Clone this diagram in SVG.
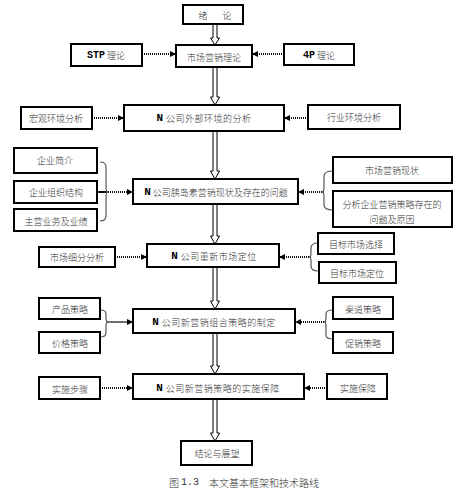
<svg xmlns="http://www.w3.org/2000/svg" width="466" height="497" viewBox="0 0 466 497">
<defs>
<style>
.box{fill:#fff;stroke:#000;stroke-width:2}
.t{font-family:"Noto Sans CJK SC","Liberation Serif",sans-serif;font-size:9px;font-weight:300;fill:#333;text-anchor:middle;dominant-baseline:central}
.n{font-family:"Liberation Mono",monospace;font-weight:bold;font-size:11px;fill:#000}
.dot{fill:none;stroke:#111;stroke-width:2;stroke-dasharray:1 1}
.sol{fill:none;stroke:#111;stroke-width:1.2}
.brace{fill:none;stroke:#555;stroke-width:1.2}
.dbl{fill:#fff;stroke:#000;stroke-width:1}
</style>
<marker id="ah" markerWidth="6" markerHeight="6" refX="6" refY="3" orient="auto" markerUnits="userSpaceOnUse"><path d="M0,0 L6,3 L0,6 z" fill="#000"/></marker>
</defs>

<g id="connectors">
<path class="dbl" d="M213,24 V38 H210.5 L215,45 L219.5,38 H217 V24"/>
<path class="dbl" d="M213,67 V97 H210.5 L215,105 L219.5,97 H217 V67"/>
<path class="dbl" d="M213,131 V171 H210.5 L215,179 L219.5,171 H217 V131"/>
<path class="dbl" d="M213,204 V236 H210.5 L215,244 L219.5,236 H217 V204"/>
<path class="dbl" d="M213,267 V301 H210.5 L215,309 L219.5,301 H217 V267"/>
<path class="dbl" d="M213,333 V366 H210.5 L215,374 L219.5,366 H217 V333"/>
<path class="dbl" d="M213,399 V433 H210.5 L215,441 L219.5,433 H217 V399"/>
<line class="dot" x1="142" y1="54" x2="176" y2="54" marker-end="url(#ah)"/>
<line class="dot" x1="284" y1="54" x2="252" y2="54" marker-end="url(#ah)"/>
<line class="dot" x1="92" y1="118" x2="124" y2="118" marker-end="url(#ah)"/>
<line class="dot" x1="308" y1="118" x2="284" y2="118" marker-end="url(#ah)"/>
<line class="sol" x1="97" y1="192" x2="106" y2="192" style="stroke-width:2"/>
<line class="dot" x1="106" y1="192" x2="133" y2="192" marker-end="url(#ah)"/>
<line class="dot" x1="324" y1="192" x2="298" y2="192" marker-end="url(#ah)"/>
<line class="dot" x1="115" y1="257" x2="147" y2="257" marker-end="url(#ah)"/>
<line class="dot" x1="311" y1="257" x2="279" y2="257" marker-end="url(#ah)"/>
<line class="sol" x1="106" y1="322" x2="133" y2="322" marker-end="url(#ah)"/>
<line class="dot" x1="326" y1="322" x2="295" y2="322" marker-end="url(#ah)"/>
<line class="dot" x1="100" y1="388" x2="133" y2="388" marker-end="url(#ah)"/>
<line class="dot" x1="327" y1="388" x2="304" y2="388" marker-end="url(#ah)"/>
<path class="brace" d="M100,162 Q106,162 106,167 V187 Q106,192 108,192 Q106,192 106,197 V216 Q106,221 100,221"/>
<path class="brace" d="M333,171 Q324,171 324,176 V187 Q324,192 322,192 Q324,192 324,197 V205 Q324,210 333,210"/>
<path class="brace" d="M318,243 Q311,243 311,248 V253 Q311,257 309,257 Q311,257 311,261 V266 Q311,271 318,271"/>
<path class="brace" d="M100,310 Q106,310 106,314 V318 Q106,322 108,322 Q106,322 106,326 V333 Q106,337 100,337"/>
<path class="brace" d="M333,310 Q326,310 326,314 V318 Q326,322 324,322 Q326,322 326,326 V335 Q326,339 333,339"/>
</g>

<g id="n1"><rect class="box" x="183" y="5" width="60" height="19"/><text class="t" x="203" y="15">绪</text><text class="t" x="227" y="15">论</text></g>
<g id="n2"><rect class="box" x="176" y="45" width="76" height="22"/><text class="t" x="214" y="57">市场营销理论</text></g>
<g id="n3"><rect class="box" x="71" y="44" width="71" height="22"/><text class="t" x="106" y="55"><tspan class="n" style="font-size:10px">STP</tspan> 理论</text></g>
<g id="n4"><rect class="box" x="284" y="44" width="70" height="21"/><text class="t" x="319" y="55"><tspan class="n" style="font-size:10px">4P</tspan> 理论</text></g>
<g id="n5"><rect class="box" x="124" y="105" width="160" height="26"/><text class="t" x="204" y="118" letter-spacing="0.5"><tspan class="n">N</tspan> 公司外部环境的分析</text></g>
<g id="n6"><rect class="box" x="21" y="107" width="71" height="22"/><text class="t" x="56" y="118">宏观环境分析</text></g>
<g id="n7"><rect class="box" x="308" y="105" width="92" height="24"/><text class="t" x="354" y="117">行业环境分析</text></g>
<g id="n8"><rect class="box" x="14" y="148" width="83" height="25"/><text class="t" x="55" y="160">企业简介</text></g>
<g id="n9"><rect class="box" x="14" y="181" width="83" height="22"/><text class="t" x="56" y="192">企业组织结构</text></g>
<g id="n10"><rect class="box" x="14" y="209" width="83" height="22"/><text class="t" x="56" y="221">主营业务及业绩</text></g>
<g id="n11"><rect class="box" x="133" y="179" width="165" height="25"/><text class="t" x="216" y="192"><tspan class="n">N</tspan> 公司胰岛素营销现状及存在的问题</text></g>
<g id="n12"><rect class="box" x="333" y="157" width="119" height="26"/><text class="t" x="392" y="170">市场营销现状</text></g>
<g id="n13"><rect class="box" x="333" y="191" width="119" height="36"/><text class="t" x="392" y="204">分析企业营销策略存在的</text><text class="t" x="392" y="219">问题及原因</text></g>
<g id="n14"><rect class="box" x="39" y="247" width="76" height="20"/><text class="t" x="77" y="257">市场细分分析</text></g>
<g id="n15"><rect class="box" x="147" y="244" width="132" height="23"/><text class="t" x="214" y="256" letter-spacing="0.5"><tspan class="n">N</tspan> 公司重新市场定位</text></g>
<g id="n16"><rect class="box" x="318" y="233" width="76" height="21"/><text class="t" x="356" y="244">目标市场选择</text></g>
<g id="n17"><rect class="box" x="319" y="262" width="77" height="21"/><text class="t" x="357" y="273">目标市场定位</text></g>
<g id="n18"><rect class="box" x="39" y="298" width="61" height="21"/><text class="t" x="70" y="309">产品策略</text></g>
<g id="n19"><rect class="box" x="39" y="332" width="61" height="21"/><text class="t" x="70" y="343">价格策略</text></g>
<g id="n20"><rect class="box" x="133" y="309" width="162" height="24"/><text class="t" x="214" y="322" letter-spacing="0.5"><tspan class="n">N</tspan> 公司新营销组合策略的制定</text></g>
<g id="n21"><rect class="box" x="333" y="297" width="60" height="22"/><text class="t" x="363" y="309">渠道策略</text></g>
<g id="n22"><rect class="box" x="333" y="332" width="60" height="21"/><text class="t" x="363" y="343">促销策略</text></g>
<g id="n23"><rect class="box" x="39" y="377" width="61" height="22"/><text class="t" x="70" y="389">实施步骤</text></g>
<g id="n24"><rect class="box" x="133" y="374" width="171" height="25"/><text class="t" x="218" y="388" letter-spacing="0.5"><tspan class="n">N</tspan> 公司新营销策略的实施保障</text></g>
<g id="n25"><rect class="box" x="327" y="374" width="60" height="25"/><text class="t" x="358" y="388">实施保障</text></g>
<g id="n26"><rect class="box" x="181" y="441" width="71" height="24"/><text class="t" x="217" y="453">结论与展望</text></g>

<text class="t" x="244" y="482" style="font-size:10px">图 <tspan style="font-family:'Liberation Mono',monospace">1.3</tspan>　本文基本框架和技术路线</text>
</svg>
